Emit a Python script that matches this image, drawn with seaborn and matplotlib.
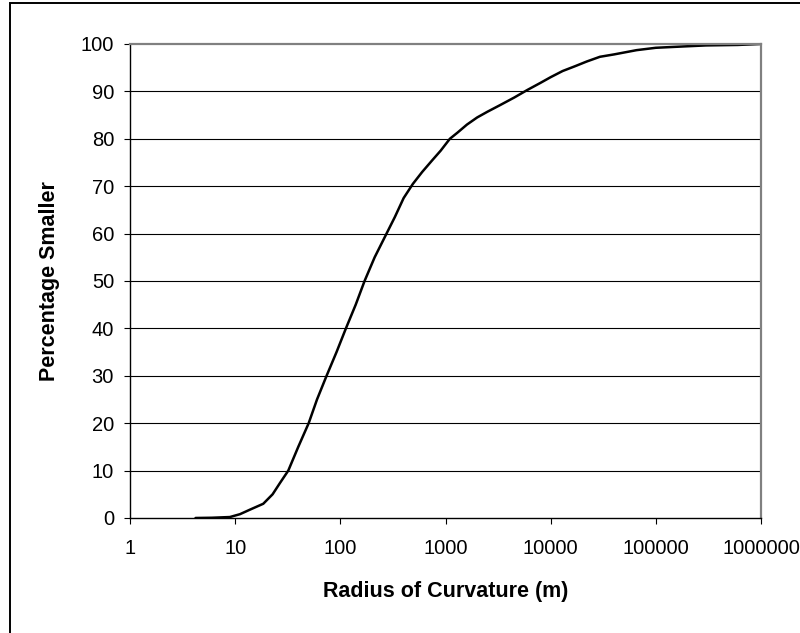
import matplotlib
matplotlib.use("Agg")
import matplotlib.pyplot as plt
import matplotlib.ticker as mticker
from matplotlib.patches import Rectangle
import pandas as pd
import seaborn as sns

# Cumulative distribution of curve radii
radius_m = [4.2, 6, 8.9, 11.1, 13.8, 18.5, 22.7, 26.7, 32, 39.8, 50, 60, 74,
            92, 113, 140, 170, 212, 275, 330, 400, 490, 600, 750, 900, 1100,
            1300, 1600, 2000, 2500, 3300, 4500, 6000, 8000, 10000, 13000,
            17000, 22000, 29400, 40000, 65600, 100000, 190000, 300000, 600000,
            1000000]
pct_smaller = [0, 0.05, 0.2, 0.8, 1.75, 3.0, 5.0, 7.4, 10.0, 15.0, 20.0, 25.0,
               30.0, 35.0, 40.0, 45.0, 50.0, 55.0, 60.0, 63.5, 67.5, 70.5, 73.0,
               75.5, 77.5, 80.0, 81.3, 83.0, 84.5, 85.7, 87.1, 88.7, 90.3, 91.8,
               93.0, 94.3, 95.3, 96.3, 97.3, 97.8, 98.7, 99.2, 99.5, 99.7, 99.8,
               100.0]

x_ticks = [1, 10, 100, 1000, 10000, 100000, 1000000]
x_tick_labels = ["1", "10", "100", "1000", "10000", "100000", "1000000"]
y_ticks = [0, 10, 20, 30, 40, 50, 60, 70, 80, 90, 100]

df = pd.DataFrame({"radius": radius_m, "pct": pct_smaller})

sns.set_theme(style="white")
plt.rcParams["font.family"] = ["Liberation Sans", "DejaVu Sans"]

fig = plt.figure(figsize=(8.0, 6.33), dpi=100)
ax = fig.add_axes([0.1625, 0.1817, 0.78875, 0.7488])

sns.lineplot(data=df, x="radius", y="pct", ax=ax, color="black",
             linewidth=1.8, estimator=None, sort=False)

ax.set_xscale("log")
ax.set_xlim(1, 1000000)
ax.set_ylim(0, 100)
ax.set_xticks(x_ticks)
ax.xaxis.set_major_formatter(mticker.FixedFormatter(x_tick_labels))
ax.xaxis.set_minor_locator(mticker.NullLocator())
ax.set_yticks(y_ticks)

ax.yaxis.grid(True, color="black", linewidth=0.8)
ax.xaxis.grid(False)
ax.get_ygridlines()[-1].set_visible(False)
ax.get_ygridlines()[0].set_visible(False)

for side in ("left", "bottom"):
    ax.spines[side].set_color("black")
    ax.spines[side].set_linewidth(1.0)
for side in ("top", "right"):
    ax.spines[side].set_color("#808080")
    ax.spines[side].set_linewidth(1.6)

ax.tick_params(axis="y", which="major", direction="out", length=4.5, width=0.8,
               color="black", pad=7, labelsize=14.5, labelcolor="black",
               left=True)
ax.tick_params(axis="x", which="major", direction="out", length=4, width=0.8,
               color="black", pad=11, labelsize=14.5, labelcolor="black",
               bottom=True)

ax.set_xlabel("Radius of Curvature (m)", fontsize=15.5, fontweight="bold",
              color="black")
ax.set_ylabel("Percentage Smaller", fontsize=15.5, fontweight="bold",
              color="black")
ax.xaxis.set_label_coords(0.5, -0.156)
ax.yaxis.set_label_coords(-0.127, 0.5)
ax.xaxis.label.set_va("center")
ax.yaxis.label.set_va("center")

# Chart-area frame
fig.patches.append(Rectangle((10 / 800, -0.1), 1.2, 1.1 - 3 / 633,
                             transform=fig.transFigure, fill=False,
                             edgecolor="black", linewidth=1.4))

fig.savefig("out.png", dpi=100)
